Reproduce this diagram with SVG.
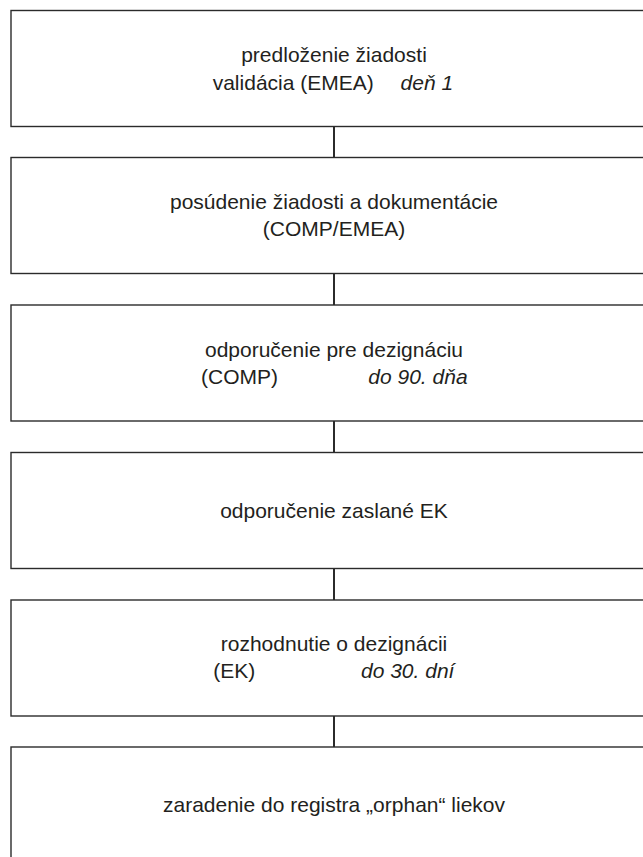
<svg xmlns="http://www.w3.org/2000/svg" width="643" height="857" viewBox="0 0 643 857">
<style>
.box{fill:#fff;stroke:#2b2b2b;stroke-width:1.4}
.con{stroke:#2b2b2b;stroke-width:2;fill:none}
text{font-family:"Liberation Sans",Arial,sans-serif;font-size:21px;fill:#231f20}
.c{text-anchor:middle}
.i{font-style:italic}
</style>
<rect width="643" height="857" fill="#fff"/>
<g id="connectors">
<line class="con" x1="334" y1="126.5" x2="334" y2="157.5"/>
<line class="con" x1="334" y1="273.5" x2="334" y2="305"/>
<line class="con" x1="334" y1="421" x2="334" y2="452.5"/>
<line class="con" x1="334" y1="568.5" x2="334" y2="600"/>
<line class="con" x1="334" y1="716" x2="334" y2="747"/>
</g>
<g id="n1">
<rect class="box" x="11" y="10.5" width="646" height="116"/>
<text class="c" x="334" y="62">predloženie žiadosti</text>
<text x="212.7" y="90">validácia (EMEA)</text>
<text class="i" x="400.6" y="90">deň 1</text>
</g>
<g id="n2">
<rect class="box" x="11" y="157.5" width="646" height="116"/>
<text class="c" x="334" y="209">posúdenie žiadosti a dokumentácie</text>
<text class="c" x="334" y="236">(COMP/EMEA)</text>
</g>
<g id="n3">
<rect class="box" x="11" y="305" width="646" height="116"/>
<text class="c" x="334" y="356.5">odporučenie pre dezignáciu</text>
<text x="201" y="383.5">(COMP)</text>
<text class="i" x="368.3" y="383.5">do 90. dňa</text>
</g>
<g id="n4">
<rect class="box" x="11" y="452.5" width="646" height="116"/>
<text class="c" x="334" y="518">odporučenie zaslané EK</text>
</g>
<g id="n5">
<rect class="box" x="11" y="600" width="646" height="116"/>
<text class="c" x="334" y="651">rozhodnutie o dezignácii</text>
<text x="213.3" y="678">(EK)</text>
<text class="i" x="361" y="678">do 30. dní</text>
</g>
<g id="n6">
<rect class="box" x="11" y="747" width="646" height="116"/>
<text class="c" x="334" y="812">zaradenie do registra „orphan“ liekov</text>
</g>
</svg>
